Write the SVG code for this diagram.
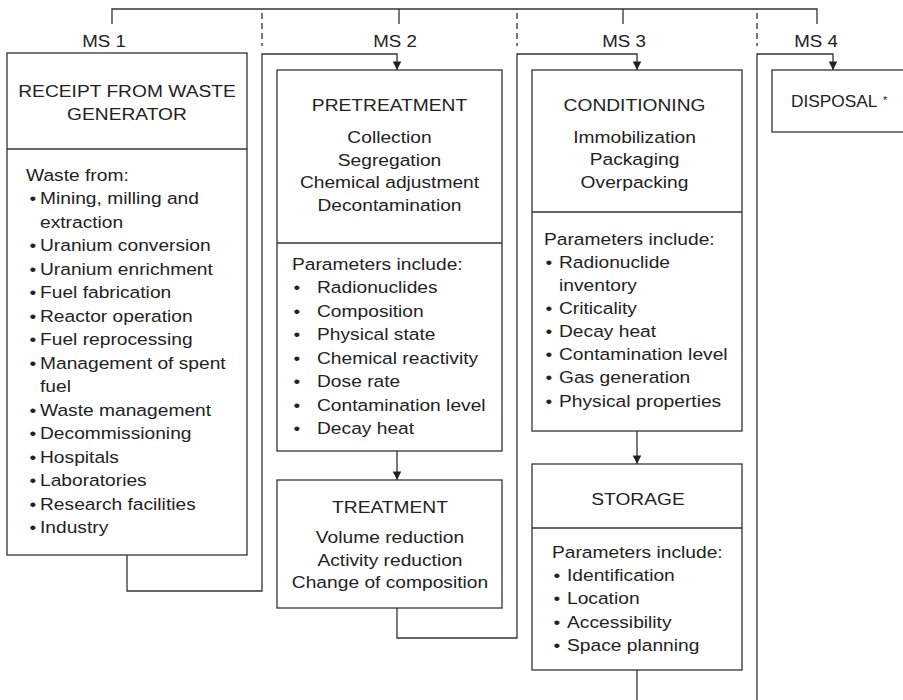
<svg xmlns="http://www.w3.org/2000/svg" width="903" height="700" viewBox="0 0 903 700">
<style>
.t{font-family:"Liberation Sans",Arial,Helvetica,sans-serif;font-size:17px;fill:#222}
.m{text-anchor:middle}
.box{fill:#fff;stroke:#333;stroke-width:1.3}
.ln{fill:none;stroke:#333;stroke-width:1.3}
.dash{stroke-dasharray:6 4}
</style>
<defs>
<marker id="arr" viewBox="0 0 10 10" refX="10" refY="5" markerWidth="9" markerHeight="8.5" markerUnits="userSpaceOnUse" orient="auto">
<path d="M0,0 L10,5 L0,10 z" fill="#222"/>
</marker>
</defs>
<rect width="903" height="700" fill="#fff"/>

<g id="connectors">
<path class="ln" d="M112,24 V9 H817 V24 M399,9 V24 M623,9 V24"/>
<path class="ln dash" d="M262,13 V46 M517,13 V46 M757,13 V46"/>
<path class="ln" d="M127,555 V591 H262 V54 H397 V70" marker-end="url(#arr)"/>
<path class="ln" d="M397,451 V480" marker-end="url(#arr)"/>
<path class="ln" d="M397,608 V638 H517 V54 H637 V70" marker-end="url(#arr)"/>
<path class="ln" d="M637,431 V464" marker-end="url(#arr)"/>
<path class="ln" d="M637,670 V700"/>
<path class="ln" d="M757,700 V54 H833 V70" marker-end="url(#arr)"/>
</g>

<g id="labels">
<text class="t m" transform="translate(104 47) scale(1.1 1)">MS 1</text>
<text class="t m" transform="translate(395 47) scale(1.1 1)">MS 2</text>
<text class="t m" transform="translate(624 47) scale(1.1 1)">MS 3</text>
<text class="t m" transform="translate(816 47) scale(1.1 1)">MS 4</text>
</g>

<g id="receipt">
<rect class="box" x="7" y="53" width="240" height="502"/>
<line class="ln" x1="7" y1="149" x2="247" y2="149"/>
<text class="t m" transform="translate(127 0) scale(1.13 1)"><tspan x="0" y="97">RECEIPT FROM WASTE</tspan><tspan x="0" y="120">GENERATOR</tspan></text>
<text class="t" transform="translate(26 181) scale(1.13 1)">Waste from:</text>
<text class="t" transform="translate(29.6 0) scale(1.13 1)"><tspan x="0" y="204.5">•</tspan><tspan x="0" y="251.5">•</tspan><tspan x="0" y="275">•</tspan><tspan x="0" y="298.5">•</tspan><tspan x="0" y="322">•</tspan><tspan x="0" y="345.5">•</tspan><tspan x="0" y="369">•</tspan><tspan x="0" y="416">•</tspan><tspan x="0" y="439.5">•</tspan><tspan x="0" y="463">•</tspan><tspan x="0" y="486.5">•</tspan><tspan x="0" y="510">•</tspan><tspan x="0" y="533.5">•</tspan></text>
<text class="t" transform="translate(40 0) scale(1.13 1)"><tspan x="0" y="204.5">Mining, milling and</tspan><tspan x="0" y="228">extraction</tspan><tspan x="0" y="251.5">Uranium conversion</tspan><tspan x="0" y="275">Uranium enrichment</tspan><tspan x="0" y="298.5">Fuel fabrication</tspan><tspan x="0" y="322">Reactor operation</tspan><tspan x="0" y="345.5">Fuel reprocessing</tspan><tspan x="0" y="369">Management of spent</tspan><tspan x="0" y="392.5">fuel</tspan><tspan x="0" y="416">Waste management</tspan><tspan x="0" y="439.5">Decommissioning</tspan><tspan x="0" y="463">Hospitals</tspan><tspan x="0" y="486.5">Laboratories</tspan><tspan x="0" y="510">Research facilities</tspan><tspan x="0" y="533.5">Industry</tspan></text>
</g>

<g id="pretreatment">
<rect class="box" x="277" y="70" width="225" height="381"/>
<line class="ln" x1="277" y1="243" x2="502" y2="243"/>
<text class="t m" transform="translate(389.5 0) scale(1.13 1)"><tspan x="0" y="111">PRETREATMENT</tspan><tspan x="0" y="143">Collection</tspan><tspan x="0" y="165.7">Segregation</tspan><tspan x="0" y="188.4">Chemical adjustment</tspan><tspan x="0" y="211">Decontamination</tspan></text>
<text class="t" transform="translate(292 270) scale(1.13 1)">Parameters include:</text>
<text class="t" transform="translate(293.6 0) scale(1.13 1)"><tspan x="0" y="293.5">•</tspan><tspan x="0" y="317">•</tspan><tspan x="0" y="340.5">•</tspan><tspan x="0" y="364">•</tspan><tspan x="0" y="387.5">•</tspan><tspan x="0" y="411">•</tspan><tspan x="0" y="434.5">•</tspan></text>
<text class="t" transform="translate(317 0) scale(1.13 1)"><tspan x="0" y="293.5">Radionuclides</tspan><tspan x="0" y="317">Composition</tspan><tspan x="0" y="340.5">Physical state</tspan><tspan x="0" y="364">Chemical reactivity</tspan><tspan x="0" y="387.5">Dose rate</tspan><tspan x="0" y="411">Contamination level</tspan><tspan x="0" y="434.5">Decay heat</tspan></text>
</g>

<g id="treatment">
<rect class="box" x="277" y="480" width="225" height="128"/>
<text class="t m" transform="translate(390 0) scale(1.13 1)"><tspan x="0" y="513">TREATMENT</tspan><tspan x="0" y="543">Volume reduction</tspan><tspan x="0" y="566">Activity reduction</tspan><tspan x="0" y="588.5">Change of composition</tspan></text>
</g>

<g id="conditioning">
<rect class="box" x="532" y="70" width="210" height="361"/>
<line class="ln" x1="532" y1="212" x2="742" y2="212"/>
<text class="t m" transform="translate(634.5 0) scale(1.13 1)"><tspan x="0" y="111">CONDITIONING</tspan><tspan x="0" y="143">Immobilization</tspan><tspan x="0" y="165.5">Packaging</tspan><tspan x="0" y="188">Overpacking</tspan></text>
<text class="t" transform="translate(544 245) scale(1.13 1)">Parameters include:</text>
<text class="t" transform="translate(545.6 0) scale(1.13 1)"><tspan x="0" y="268">•</tspan><tspan x="0" y="314">•</tspan><tspan x="0" y="337.5">•</tspan><tspan x="0" y="360.5">•</tspan><tspan x="0" y="383.5">•</tspan><tspan x="0" y="407">•</tspan></text>
<text class="t" transform="translate(559 0) scale(1.13 1)"><tspan x="0" y="268">Radionuclide</tspan><tspan x="0" y="291">inventory</tspan><tspan x="0" y="314">Criticality</tspan><tspan x="0" y="337.5">Decay heat</tspan><tspan x="0" y="360.5">Contamination level</tspan><tspan x="0" y="383.5">Gas generation</tspan><tspan x="0" y="407">Physical properties</tspan></text>
</g>

<g id="storage">
<rect class="box" x="532" y="464" width="210" height="206"/>
<line class="ln" x1="532" y1="528" x2="742" y2="528"/>
<text class="t m" transform="translate(638 505) scale(1.13 1)">STORAGE</text>
<text class="t" transform="translate(552 558) scale(1.13 1)">Parameters include:</text>
<text class="t" transform="translate(553.6 0) scale(1.13 1)"><tspan x="0" y="581">•</tspan><tspan x="0" y="604.5">•</tspan><tspan x="0" y="628">•</tspan><tspan x="0" y="651.5">•</tspan></text>
<text class="t" transform="translate(567 0) scale(1.13 1)"><tspan x="0" y="581">Identification</tspan><tspan x="0" y="604.5">Location</tspan><tspan x="0" y="628">Accessibility</tspan><tspan x="0" y="651.5">Space planning</tspan></text>
</g>

<g id="disposal">
<rect class="box" x="772" y="70" width="140" height="62"/>
<text class="t" x="791" y="107" style="font-size:17.3px">DISPOSAL</text>
<text class="t" x="883" y="104" style="font-size:11px">*</text>
</g>
</svg>
